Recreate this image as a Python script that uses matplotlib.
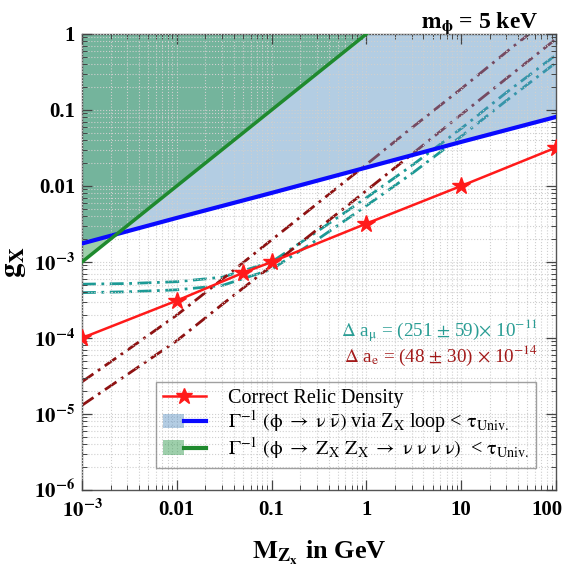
import matplotlib
matplotlib.use("Agg")
import matplotlib.pyplot as plt
import matplotlib.transforms as mtransforms
from matplotlib.lines import Line2D
from matplotlib.patches import Patch
from matplotlib.legend_handler import HandlerTuple

plt.rcParams['font.family'] = 'serif'
plt.rcParams['font.serif'] = ['Liberation Serif', 'DejaVu Serif']
plt.rcParams['mathtext.fontset'] = 'stix'

# relic density points (stars)
m_relic = [1e-3, 0.01, 0.05, 0.1, 1, 10, 100]
g_relic = [1e-4, 3.1e-4, 7.2e-4, 1e-3, 3.2e-3, 0.01, 0.032]

# lifetime bounds
m_loop = [1e-3, 0.01, 0.1, 1, 10, 100]
g_loop = [1.75e-3, 3.8e-3, 8.1e-3, 0.0175, 0.038, 0.081]
m_zz = [1e-3, 0.01, 0.1, 1.0]
g_zz = [1e-3, 0.01, 0.1, 1.0]

# g-2 bands
m_g2 = [1e-3, 3e-3, 0.01, 0.03, 0.1, 0.3, 1, 3, 10, 30, 100]
g_mu_hi = [5.1e-4, 5.2e-4, 5.5e-4, 6.3e-4, 1.0e-3, 2.5e-3, 7.0e-3, 0.0185, 0.057, 0.17, 0.53]
g_mu_lo = [3.95e-4, 4.05e-4, 4.3e-4, 4.9e-4, 8.0e-4, 1.95e-3, 5.5e-3, 0.0145, 0.045, 0.133, 0.42]
g_e_hi = [2.65e-5, 6.9e-5, 2.0e-4, 5.9e-4, 1.95e-3, 5.8e-3, 0.0192, 0.058, 0.19, 0.58, 1.9]
g_e_lo = [1.3e-5, 3.3e-5, 9.2e-5, 2.75e-4, 8.9e-4, 2.65e-3, 8.7e-3, 0.026, 0.087, 0.26, 0.86]

xticks = [1e-3, 0.01, 0.1, 1, 10, 100]
xlabels = [r'$\mathbf{10^{-3}}$', '0.01', '0.1', '1', '10', '100']
yticks = [1e-6, 1e-5, 1e-4, 1e-3, 0.01, 0.1, 1]
ylabels = [r'$\mathbf{10^{-6}}$', r'$\mathbf{10^{-5}}$', r'$\mathbf{10^{-4}}$',
           r'$\mathbf{10^{-3}}$', '0.01', '0.1', '1']

c_red = '#ff1a1a'
c_blue = '#0a0aff'
c_green = '#1f8a2e'
c_teal = '#1c9a95'
c_dred = '#8e1212'
fill_blue = (88/255, 144/255, 195/255)
fill_green = (40/255, 150/255, 70/255)

fig = plt.figure(figsize=(5.67, 5.71), dpi=100)
ax = fig.add_axes([0.1446, 0.1419, 0.836, 0.7986])
ax.set_xscale('log')
ax.set_yscale('log')

dd = (0, (5, 2, 1, 2))
ax.plot(m_g2, g_mu_hi, color=c_teal, lw=2, ls=dd, zorder=1.2)
ax.plot(m_g2, g_mu_lo, color=c_teal, lw=2, ls=dd, zorder=1.2)
ax.plot(m_g2, g_e_hi, color=c_dred, lw=2, ls=dd, zorder=1.2)
ax.plot(m_g2, g_e_lo, color=c_dred, lw=2, ls=dd, zorder=1.2)

ax.fill_between(m_loop, g_loop, 10, color=fill_blue, alpha=0.45, lw=0, zorder=1.5)
ax.fill_between(m_zz, g_zz, 10, color=fill_green, alpha=0.45, lw=0, zorder=1.6)

ax.plot(m_loop, g_loop, color=c_blue, lw=3, zorder=3)
ax.plot(m_zz, g_zz, color=c_green, lw=2.5, zorder=3)
ax.plot(m_relic, g_relic, color=c_red, lw=1.8, marker='*', ms=13, zorder=4)

ax.set_xlim(1e-3, 100)
ax.set_ylim(1e-6, 1)
ax.set_axisbelow(False)
ax.grid(True, which='both', ls=':', color='#cfcfcf', lw=0.8)
ax.tick_params(which='both', direction='in', top=True, right=True, colors='#444444',
               labelcolor='black')
ax.tick_params(which='major', length=7, width=0.9)
ax.tick_params(which='minor', length=3.5, width=0.7)
ax.set_xticks(xticks)
ax.set_xticklabels(xlabels, fontsize=15, fontweight='bold')
ax.set_yticks(yticks)
ax.set_yticklabels(ylabels, fontsize=15, fontweight='bold')
ax.tick_params(axis='x', pad=7)
ax.tick_params(axis='y', pad=5)
for s in ax.spines.values():
    s.set_color('#555555')
    s.set_linewidth(1.0)
# keep "100" inside the picture
last = ax.get_xticklabels()[-1]
last.set_transform(last.get_transform() + mtransforms.ScaledTranslation(-9/100, 0, fig.dpi_scale_trans))

ax.set_xlabel(r'$\mathbf{M_{Z_x}}$ in GeV', fontsize=19, fontweight='bold', labelpad=12)
ax.set_ylabel(r'$\mathbf{g_X}$', fontsize=21, labelpad=4)
fig.text(0.949, 0.952, r'$\mathbf{m_{\phi}}$ = 5 keV', fontsize=17, fontweight='bold',
         ha='right', va='baseline')

ax.text(0.962, 0.336, r'$\Delta$ a$_{\mathrm{\mu}}$ = (251 $\pm$ 59)$\times$ 10$^{-11}$', color='#2a9d94',
        fontsize=13.8, ha='right', va='baseline', transform=ax.transAxes)
ax.text(0.962, 0.28, r'$\Delta$ a$_{\mathrm{e}}$ = (48 $\pm$ 30) $\times$ 10$^{-14}$', color='#a31a1a',
        fontsize=13.8, ha='right', va='baseline', transform=ax.transAxes)

h1 = Line2D([], [], color=c_red, lw=1.8, marker='*', ms=12)
h2 = (Patch(facecolor=fill_blue, alpha=0.45, lw=0), Line2D([], [], color=c_blue, lw=3))
h3 = (Patch(facecolor=fill_green, alpha=0.45, lw=0), Line2D([], [], color=c_green, lw=3))
labels = ['Correct Relic Density',
          r'$\mathrm{\Gamma^{-1}\ (\phi\ \rightarrow\ \nu\ \bar{\nu})}$ via Z$_{\rm X}$ loop < $\mathrm{\tau_{Univ.}}$',
          r'$\mathrm{\Gamma^{-1}\ (\phi\ \rightarrow\ Z_X\ Z_X\ \rightarrow\ \nu\ \nu\ \nu\ \nu)}$  < $\mathrm{\tau_{Univ.}}$']
leg = ax.legend([h1, h2, h3], labels, handler_map={tuple: HandlerTuple(ndivide=None, pad=0)},
                loc='lower right', bbox_to_anchor=(0.958, 0.048), borderaxespad=0,
                fontsize=14.5, frameon=True, fancybox=False, handlelength=2.1,
                handletextpad=1.1, borderpad=0.35, labelspacing=0.0)
leg.get_frame().set_facecolor('none')
leg.get_frame().set_edgecolor('#888888')
leg.get_frame().set_linewidth(1.0)
leg.set_zorder(5)

fig.savefig('out.png', dpi=100)
